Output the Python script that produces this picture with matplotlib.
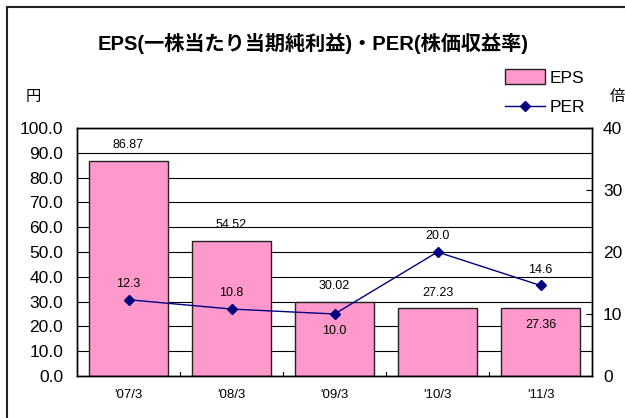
import matplotlib
matplotlib.use("Agg")
import matplotlib.pyplot as plt
import numpy as np
from matplotlib.patches import Rectangle
from matplotlib.lines import Line2D
from matplotlib.patches import Patch

plt.rcParams['font.family'] = ['Liberation Sans', 'Noto Sans CJK JP', 'DejaVu Sans']

categories = ["'07/3", "'08/3", "'09/3", "'10/3", "'11/3"]
eps = [86.87, 54.52, 30.02, 27.23, 27.36]
per = [12.3, 10.8, 10.0, 20.0, 14.6]
eps_labels = ["86.87", "54.52", "30.02", "27.23", "27.36"]
per_labels = ["12.3", "10.8", "10.0", "20.0", "14.6"]
left_ticks = [0, 10, 20, 30, 40, 50, 60, 70, 80, 90, 100]
right_ticks = [0, 10, 20, 30, 40]

W, H = 625, 418
fig = plt.figure(figsize=(W / 100, H / 100), dpi=100)
fig.patch.set_facecolor('white')

# outer frame
fig.patches.append(Rectangle((7 / W, -0.05), 1.2, (H - 7) / H + 0.05, transform=fig.transFigure,
                             fill=False, edgecolor='#222222', linewidth=1.5))

ax = fig.add_axes([77 / W, (H - 376) / H, (592 - 77) / W, (376 - 128) / H])
x = np.arange(len(categories))
ax.bar(x, eps, width=0.77, color='#FF99CC', edgecolor='#222222', linewidth=1.0, zorder=2)
ax.set_xlim(-0.5, len(categories) - 0.5)
ax.set_ylim(0, 100)
ax.set_yticks(left_ticks)
ax.set_yticklabels([f"{v:.1f}" for v in left_ticks], fontsize=12.5)
ax.yaxis.grid(True, color='black', linewidth=0.8, zorder=0)
ax.set_axisbelow(True)
ax.tick_params(axis='y', direction='in', length=0, pad=10)
ax.set_xticks(x)
ax.set_xticklabels(categories, fontsize=9.5)
ax.tick_params(axis='x', length=0, pad=9)
for b in np.arange(0.5, len(categories) - 0.5, 1.0):
    ax.plot([b, b], [0, 1.5], color='black', linewidth=0.8, zorder=3)
for s in ax.spines.values():
    s.set_color('black')
    s.set_linewidth(1.0)

# EPS labels
eps_offsets = [7, 7, 7, 7, -8]
for i, (v, lab) in enumerate(zip(eps, eps_labels)):
    ax.annotate(lab, (x[i], v), xytext=(0, eps_offsets[i]), textcoords='offset points',
                ha='center', va='bottom' if eps_offsets[i] > 0 else 'top', fontsize=9, zorder=5)

ax2 = ax.twinx()
ax2.set_ylim(0, 40)
ax2.set_yticks(right_ticks)
ax2.set_yticklabels([str(v) for v in right_ticks], fontsize=12.5)
ax2.tick_params(axis='y', direction='in', length=4, pad=8)
ax2.plot(x, per, color='#000080', linewidth=1.0, marker='D', markersize=5,
         markerfacecolor='#000080', zorder=4)
per_offsets = [7, 7, -8, 7, 7]
for i, (v, lab) in enumerate(zip(per, per_labels)):
    ax2.annotate(lab, (x[i], v), xytext=(0, per_offsets[i]), textcoords='offset points',
                 ha='center', va='bottom' if per_offsets[i] > 0 else 'top', fontsize=9, zorder=5)
for s in ax2.spines.values():
    s.set_linewidth(1.0)

fig.text(313 / W, 1 - 43 / H, "EPS(一株当たり当期純利益)・PER(株価収益率)", ha='center', va='center',
         fontsize=14.5, fontweight='bold')
fig.text(33 / W, 1 - 97 / H, "円", ha='center', va='center', fontsize=11)
fig.text(617 / W, 1 - 97 / H, "倍", ha='center', va='center', fontsize=11)

handles = [Patch(facecolor='#FF99CC', edgecolor='#222222', linewidth=1.0),
           Line2D([0], [0], color='#000080', marker='D', markersize=5, linewidth=1.0)]
fig.legend(handles, ['EPS', 'PER'], loc='upper left', bbox_to_anchor=(498 / W, 1 - 62 / H),
           frameon=False, fontsize=12.5, handlelength=2.3, handleheight=1.0, handletextpad=0.3,
           labelspacing=0.75, borderaxespad=0)

fig.savefig('out.png', dpi=100)
